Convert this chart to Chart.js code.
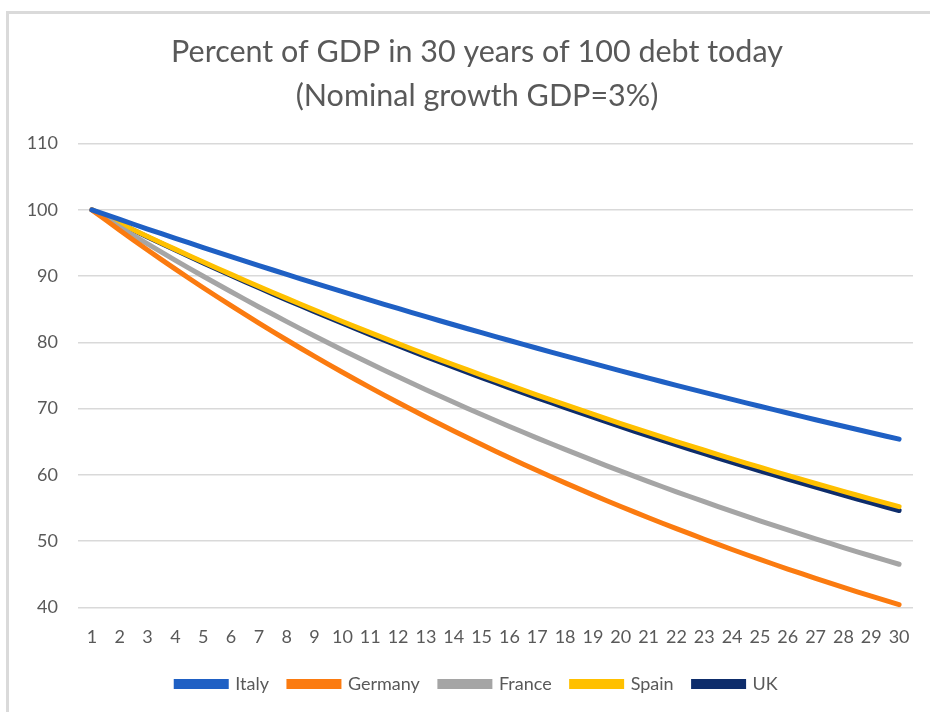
<!DOCTYPE html>
<html>
<head>
<meta charset="utf-8">
<script src="https://cdn.jsdelivr.net/npm/chart.js@4"></script>
<style>
  html, body { margin: 0; padding: 0; background: #fff; overflow: hidden; }
  #marco { position: absolute; left: 6px; top: 11px; width: 1000px; height: 800px; border: 3px solid #dadada; }
  #caja { position: absolute; left: 0; top: 0; width: 930px; height: 712px; }
</style>
</head>
<body>
<div id="marco"></div>
<div id="caja"><canvas id="grafico" width="930" height="712"></canvas></div>
<script>
const anios = ['1','2','3','4','5','6','7','8','9','10','11','12','13','14','15','16','17','18','19','20','21','22','23','24','25','26','27','28','29','30'];

const italia = [100, 98.55, 97.11, 95.70, 94.31, 92.94, 91.59, 90.26, 88.94, 87.65, 86.38, 85.12, 83.88, 82.66, 81.46, 80.28, 79.11, 77.96, 76.83, 75.71, 74.61, 73.52, 72.45, 71.40, 70.36, 69.34, 68.33, 67.34, 66.36, 65.39];
const alemania = [100, 96.92, 93.94, 91.05, 88.25, 85.54, 82.91, 80.36, 77.88, 75.49, 73.17, 70.92, 68.73, 66.62, 64.57, 62.59, 60.66, 58.79, 56.99, 55.23, 53.53, 51.89, 50.29, 48.74, 47.24, 45.79, 44.38, 43.02, 41.69, 40.41];
const francia = [100, 97.40, 94.86, 92.39, 89.98, 87.64, 85.35, 83.13, 80.96, 78.86, 76.80, 74.80, 72.85, 70.95, 69.11, 67.31, 65.55, 63.85, 62.18, 60.56, 58.98, 57.45, 55.95, 54.49, 53.07, 51.69, 50.35, 49.03, 47.76, 46.51];
const espana = [100, 97.97, 95.99, 94.04, 92.13, 90.26, 88.43, 86.64, 84.88, 83.16, 81.47, 79.82, 78.20, 76.62, 75.06, 73.54, 72.05, 70.59, 69.16, 67.75, 66.38, 65.03, 63.72, 62.42, 61.16, 59.92, 58.70, 57.51, 56.35, 55.20];
const reinoUnido = [100, 97.94, 95.91, 93.93, 92.00, 90.10, 88.24, 86.42, 84.63, 82.89, 81.18, 79.50, 77.86, 76.25, 74.68, 73.14, 71.63, 70.15, 68.70, 67.28, 65.89, 64.53, 63.20, 61.90, 60.62, 59.37, 58.14, 56.94, 55.77, 54.62];

const series = [
  { label: 'Italy', data: italia, color: '#1f60c4' },
  { label: 'Germany', data: alemania, color: '#fb7b10' },
  { label: 'France', data: francia, color: '#a5a5a5' },
  { label: 'Spain', data: espana, color: '#ffc000' },
  { label: 'UK', data: reinoUnido, color: '#0e2d6b' }
];

const gris = '#595959';
const fuente = 'Lato, "Open Sans", sans-serif';

const config = {
  type: 'line',
  data: {
    labels: anios,
    datasets: series.map(s => ({
      label: s.label,
      data: s.data,
      borderColor: s.color,
      backgroundColor: s.color,
      borderWidth: 5,
      pointRadius: 0,
      tension: 0.2,
      borderCapStyle: 'round'
    }))
  },
  options: {
    responsive: false,
    animation: false,
    layout: { padding: { left: 24, right: 0, top: 31, bottom: 9 } },
    plugins: {
      title: {
        display: true,
        text: ['Percent of GDP in 30 years of 100 debt today', '(Nominal growth GDP=3%)'],
        color: gris,
        font: { family: fuente, size: 30.5, weight: 'normal', lineHeight: 1.42 },
        padding: { top: 0, bottom: 26 }
      },
      legend: {
        position: 'bottom',
        labels: {
          color: gris,
          font: { family: fuente, size: 18 },
          boxWidth: 50,
          boxHeight: 5,
          padding: 20
        }
      },
      tooltip: { enabled: false }
    },
    scales: {
      x: {
        offset: true,
        grid: { display: false },
        border: { display: false },
        ticks: { color: gris, font: { family: fuente, size: 18 }, padding: 11, maxRotation: 0, autoSkip: false },
        afterFit: scale => { scale.height -= 4; }
      },
      y: {
        min: 40,
        max: 110,
        grid: { color: '#d9d9d9', lineWidth: 1.5, drawTicks: false },
        border: { display: false },
        ticks: { stepSize: 10, color: gris, font: { family: fuente, size: 18 }, padding: 20 },
        afterFit: scale => { scale.width = 54; }
      },
      margen: {
        position: 'right',
        grid: { display: false },
        border: { display: false },
        ticks: { display: false },
        afterFit: scale => { scale.width = 17; }
      }
    }
  }
};

new Chart(document.getElementById('grafico'), config);
</script>
</body>
</html>
